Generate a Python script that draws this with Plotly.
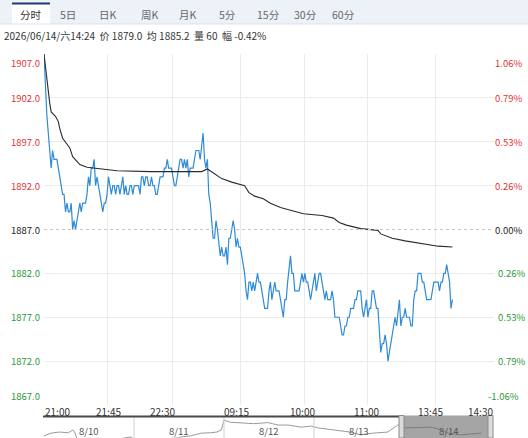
import plotly.graph_objects as go

W, H = 528, 438
L, R, T = 44, 494, 54          # plot box in page pixels (bottom margin 0)
MAIN_BOTTOM = 405              # bottom of the price panel
NAV_TOP = 417                  # top of the navigator strip

RED = "#dd3434"
GREEN = "#2a9a3a"
BLUE = "#2f8bd6"

# ---- data ----
tabs = ["分时", "5日", "日K", "周K", "月K", "5分", "15分", "30分", "60分"]
info_text = "2026/06/14/六14:24  价 1879.0  均 1885.2  量 60  幅 -0.42%"

prev_close = 1887
price_ticks = [1907, 1902, 1897, 1892, 1887, 1882, 1877, 1872, 1867]
pct_labels = ["1.06%", "0.79%", "0.53%", "0.26%", "0.00%",
              "0.26%", "0.53%", "0.79%", "-1.06%"]
time_labels = ["21:00", "21:45", "22:30", "09:15", "10:00", "11:00", "13:45", "14:30"]
time_ticks = [0, 44, 90, 137, 182, 226, 273, 314]

# last price, one value per minute
price = [
    1907, 1903, 1900, 1898, 1896, 1894, 1896, 1895, 1895, 1895,   # 0
    1894, 1893, 1892, 1891, 1891, 1889, 1890, 1889, 1889, 1890,   # 10
    1887, 1888, 1887, 1888, 1889, 1890, 1889, 1890, 1890, 1890,   # 20
    1891, 1893, 1892, 1894, 1894, 1895, 1892, 1893, 1892, 1891,   # 30
    1890, 1889, 1890, 1890, 1891, 1893, 1892, 1891, 1892, 1892,   # 40
    1891, 1892, 1892, 1891, 1892, 1893, 1891, 1892, 1891, 1891,   # 50
    1892, 1892, 1891, 1892, 1892, 1892, 1892, 1891, 1893, 1893,   # 60
    1892, 1893, 1893, 1892, 1892, 1893, 1892, 1892, 1891, 1891,   # 70
    1892, 1893, 1893, 1893, 1894, 1894, 1895, 1894, 1894, 1894,   # 80
    1893, 1892, 1892, 1893, 1894, 1895, 1895, 1894, 1895, 1894,   # 90
    1895, 1893, 1894, 1894, 1894, 1895, 1896, 1896, 1896, 1895,   # 100
    1897, 1898, 1895, 1894, 1895, 1891, 1890, 1888, 1886, 1886,   # 110
    1888, 1887, 1885, 1884, 1885, 1884, 1884, 1885, 1883, 1886,   # 120
    1886, 1887, 1888, 1887, 1885, 1886, 1885, 1885, 1884, 1883,   # 130
    1882, 1880, 1879, 1881, 1881, 1880, 1881, 1880, 1881, 1882,   # 140
    1881, 1881, 1880, 1879, 1878, 1878, 1878, 1880, 1881, 1879,   # 150
    1880, 1881, 1880, 1880, 1880, 1879, 1878, 1877, 1879, 1879,   # 160
    1881, 1883, 1884, 1882, 1882, 1880, 1880, 1880, 1880, 1881,   # 170
    1882, 1881, 1882, 1881, 1881, 1880, 1879, 1880, 1881, 1882,   # 180
    1880, 1881, 1882, 1882, 1881, 1880, 1879, 1880, 1879, 1879,   # 190
    1879, 1880, 1879, 1877, 1877, 1877, 1877, 1876, 1875, 1875,   # 200
    1876, 1876, 1877, 1877, 1878, 1878, 1878, 1879, 1879, 1880,   # 210
    1880, 1880, 1878, 1877, 1878, 1879, 1877, 1878, 1878, 1880,   # 220
    1880, 1879, 1878, 1878, 1876, 1873, 1874, 1874, 1875, 1874,   # 230
    1872, 1873, 1874, 1875, 1876, 1877, 1876, 1878, 1879, 1876,   # 240
    1877, 1877, 1878, 1877, 1877, 1877, 1876, 1876, 1879, 1880,   # 250
    1880, 1882, 1882, 1882, 1881, 1881, 1880, 1879, 1879, 1879,   # 260
    1879, 1880, 1881, 1881, 1881, 1881, 1880, 1881, 1881, 1882,   # 270
    1882, 1883, 1882, 1881, 1878, 1879,                           # 280
]

# average price, read at these minutes
avg_min = [0, 2, 3, 4, 5, 8, 10, 11, 13, 16, 18, 20, 23, 25, 30, 39, 51, 74,
           110, 114, 124, 131, 138, 140, 143, 147, 153, 158, 165, 174, 181,
           194, 202, 206, 211, 221, 226, 233, 235, 243, 252, 264, 275, 285]
avg_val = [1907, 1904, 1902.5, 1901.4, 1900.4, 1899.9, 1899.3, 1898.5, 1897.4,
           1896.8, 1896.3, 1895.3, 1894.7, 1894.4, 1894.1, 1893.9, 1893.7, 1893.6,
           1893.6, 1893.9, 1892.8, 1892.4, 1892.1, 1892.0, 1891.2, 1890.8, 1890.5,
           1890.0, 1889.5, 1889.1, 1888.8, 1888.6, 1888.3, 1887.8, 1887.5, 1887.1,
           1887.0, 1886.9, 1886.5, 1886.0, 1885.7, 1885.4, 1885.1, 1885.0]

# navigator: five days, x in days
nav_days = ["8/10", "8/11", "8/12", "8/13", "8/14"]
nav_x = [0.0, 0.08, 0.17, 0.27, 0.32, 0.34, 0.37, 0.6, 0.85, 0.97,
         1.0, 1.2, 1.5, 1.52, 1.63, 1.75, 1.85, 1.92, 1.97,
         2.0, 2.07, 2.19, 2.33, 2.49, 2.6, 2.71, 2.86, 2.97,
         3.04, 3.22, 3.4, 3.52, 3.66, 3.82, 3.93,
         4.02, 4.16, 4.3, 4.38, 4.49, 4.63, 4.78, 4.86]
nav_y = [1866, 1874, 1877, 1875, 1883, 1877, 1855, 1850, 1858, 1863,
         1855, 1856, 1860, 1863, 1866, 1874, 1875, 1877, 1883,
         1911, 1905, 1903, 1901, 1904, 1897, 1897, 1891, 1894,
         1889, 1883, 1877, 1869, 1874, 1877, 1897,
         1889, 1891, 1891, 1886, 1874, 1869, 1871, 1874]


def fx(px):
    return (px - L) / (R - L)


def fy(py):
    return (H - py) / (H - T)


fig = go.Figure()

fig.add_trace(go.Scatter(
    x=list(range(len(price))), y=price, mode="lines",
    line=dict(color=BLUE, width=1.2), hoverinfo="skip",
))
fig.add_trace(go.Scatter(
    x=avg_min, y=avg_val, mode="lines",
    line=dict(color="#2b2b2b", width=1.1), hoverinfo="skip",
))
fig.add_trace(go.Scatter(
    x=nav_x, y=nav_y, mode="lines", xaxis="x2", yaxis="y2",
    line=dict(color="#9a9a9a", width=1), hoverinfo="skip",
))

shapes = []
annotations = []

# tab bar
shapes.append(dict(type="rect", xref="paper", yref="paper",
                   x0=fx(0), x1=fx(W), y0=fy(24), y1=fy(0),
                   fillcolor="#edf1f8", line=dict(width=0), layer="below"))
shapes.append(dict(type="line", xref="paper", yref="paper",
                   x0=fx(0), x1=fx(W), y0=fy(24), y1=fy(24),
                   line=dict(color="#dde3ec", width=1)))
shapes.append(dict(type="rect", xref="paper", yref="paper",
                   x0=fx(12), x1=fx(50), y0=fy(24), y1=fy(3),
                   fillcolor="white", line=dict(width=0), layer="below"))
shapes.append(dict(type="line", xref="paper", yref="paper",
                   x0=fx(12), x1=fx(50), y0=fy(3.5), y1=fy(3.5),
                   line=dict(color="#1d3b72", width=2)))
tab_centers = [31, 68, 108, 150, 188, 227, 268, 305, 343]
for name, cx in zip(tabs, tab_centers):
    annotations.append(dict(xref="paper", yref="paper", x=fx(cx), y=fy(14.5),
                            text=name, showarrow=False, xanchor="center",
                            yanchor="middle",
                            font=dict(size=10.5, color="#333" if name == "分时" else "#666")))

annotations.append(dict(xref="paper", yref="paper", x=fx(2), y=fy(35.5),
                        text=info_text, showarrow=False, xanchor="left",
                        yanchor="middle", font=dict(size=10, color="#333")))

# previous close
shapes.append(dict(type="line", xref="x", yref="y", x0=0, x1=314,
                   y0=prev_close, y1=prev_close,
                   line=dict(color="#c8c8c8", width=1, dash="dot")))

# price / percent labels
for v, pct in zip(price_ticks, pct_labels):
    if v > prev_close:
        c = RED
    elif v < prev_close:
        c = GREEN
    else:
        c = "#222"
    ya = "top" if v == price_ticks[0] else ("bottom" if v == price_ticks[-1] else "middle")
    annotations.append(dict(xref="paper", yref="y", x=fx(41.5), y=v,
                            text=f"{v:.1f}", showarrow=False, xanchor="right",
                            yanchor=ya, font=dict(size=9.5, color=c)))
    px_right = 524 if v >= prev_close else 527
    if v == price_ticks[-1]:
        px_right = 521
    annotations.append(dict(xref="paper", yref="y", x=fx(px_right), y=v,
                            text=pct, showarrow=False, xanchor="right",
                            yanchor=ya, font=dict(size=9.5, color=c)))

# time labels
label_px = [43, 108, 162, 236, 302, 366, 430, 495]
for i, (lab, lx) in enumerate(zip(time_labels, label_px)):
    xa = "left" if i == 0 else ("right" if i == len(time_labels) - 1 else "center")
    annotations.append(dict(xref="paper", yref="paper", x=fx(lx), y=fy(411.5),
                            text=lab, showarrow=False, xanchor=xa, yanchor="middle",
                            font=dict(size=10, color="#333")))

# navigator chrome
for b in [1, 2, 3]:
    shapes.append(dict(type="line", xref="x2", yref="paper", x0=b, x1=b,
                       y0=fy(438), y1=fy(NAV_TOP),
                       line=dict(color="#d0d0d0", width=1)))
shapes.append(dict(type="line", xref="paper", yref="paper",
                   x0=fx(43), x1=fx(399), y0=fy(416.5), y1=fy(416.5),
                   line=dict(color="#4a4a4a", width=2.2)))
shapes.append(dict(type="rect", xref="paper", yref="paper",
                   x0=fx(399), x1=fx(493), y0=fy(438), y1=fy(415.5),
                   fillcolor="rgba(105,105,105,0.6)", line=dict(width=0)))
for hx in [399, 488]:
    shapes.append(dict(type="rect", xref="paper", yref="paper",
                       x0=fx(hx), x1=fx(hx + 5), y0=fy(438), y1=fy(415.5),
                       fillcolor="#dcdcdc", line=dict(color="#8a8a8a", width=1)))
for d, lab in enumerate(nav_days):
    annotations.append(dict(xref="x2", yref="paper", x=d + 0.5, y=fy(430.5),
                            text=lab, showarrow=False, xanchor="center",
                            yanchor="middle", font=dict(size=9.5, color="#555")))

fig.update_layout(
    width=W, height=H,
    margin=dict(l=L, r=W - R, t=T, b=0, pad=0),
    paper_bgcolor="white", plot_bgcolor="white",
    showlegend=False,
    font=dict(family="Noto Sans CJK SC, Noto Sans, sans-serif", size=10, color="#333"),
    xaxis=dict(range=[0, 314], tickvals=time_ticks[1:-1], showticklabels=False,
               showgrid=True, gridcolor="#ebebeb", gridwidth=1, zeroline=False,
               showline=False, ticks="", anchor="y", fixedrange=True),
    yaxis=dict(range=[1867, 1907], domain=[fy(MAIN_BOTTOM), 1],
               tickvals=[v for v in price_ticks if v != prev_close],
               showticklabels=False, showgrid=True, gridcolor="#ebebeb",
               zeroline=False, showline=False, ticks="", fixedrange=True),
    xaxis2=dict(range=[0, 5], anchor="y2", visible=False, fixedrange=True),
    yaxis2=dict(range=[1860, 1920], domain=[0, fy(NAV_TOP)], anchor="x2",
                visible=False, fixedrange=True),
    shapes=shapes,
    annotations=annotations,
)

# the page is shot at exactly the figure size, so drop the default body margin
fig.write_html(
    "out.html",
    config={"displayModeBar": False},
    post_script="document.body.style.margin='0';document.body.style.overflow='hidden';",
)
